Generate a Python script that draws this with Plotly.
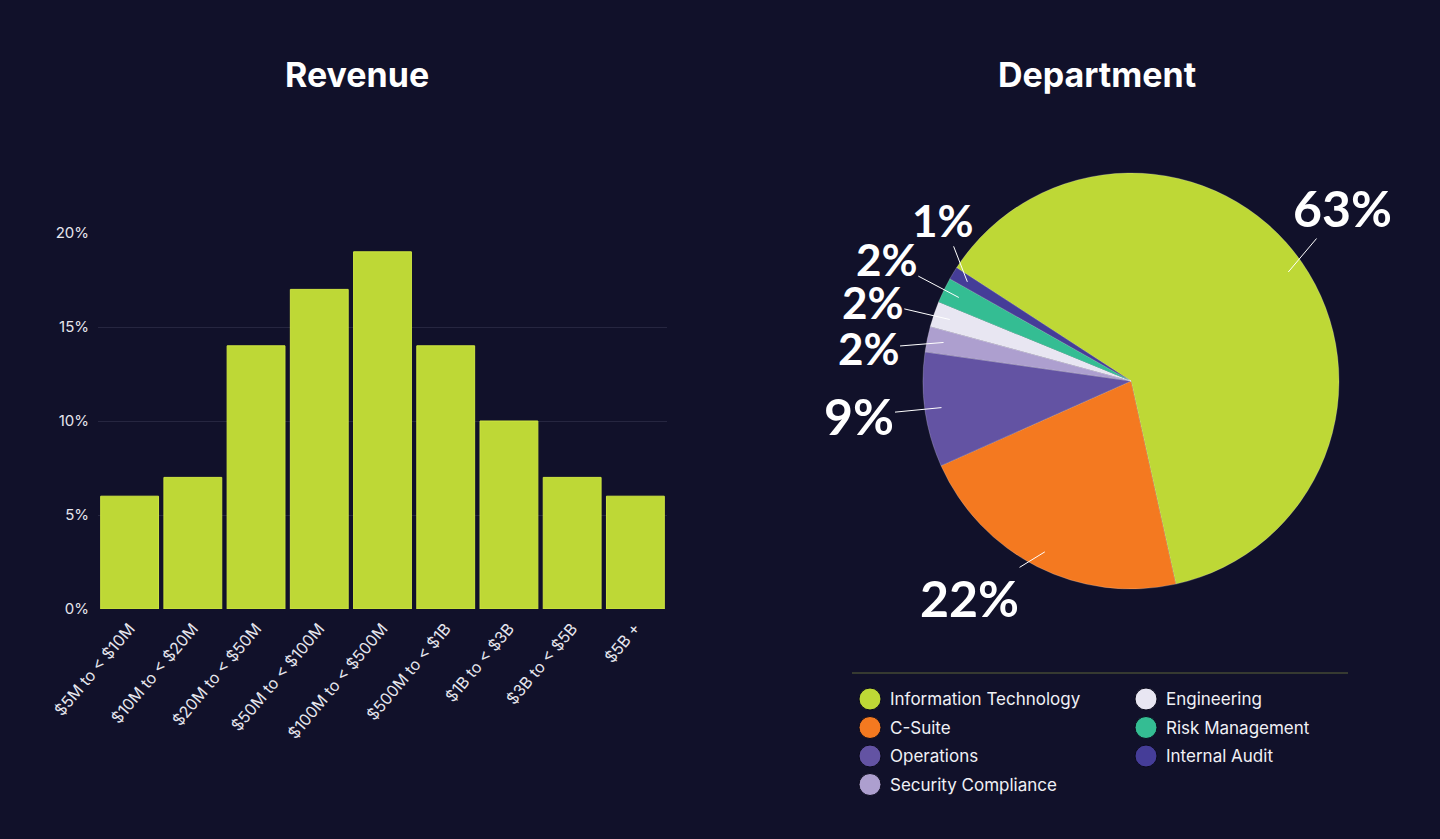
import math
import plotly.graph_objects as go

# ---------------- data ----------------
revenue_categories = ["$5M to < $10M", "$10M to < $20M", "$20M to < $50M", "$50M to < $100M",
                      "$100M to < $500M", "$500M to < $1B", "$1B to < $3B", "$3B to < $5B", "$5B +"]
revenue_values = [6, 7, 14, 17, 19, 14, 10, 7, 6]
revenue_ticks = [0, 5, 10, 15, 20]

dept_labels = ["Information Technology", "C-Suite", "Operations", "Security Compliance",
               "Engineering", "Risk Management", "Internal Audit"]
dept_values = [63, 22, 9, 2, 2, 2, 1]
dept_colors = ["#bed836", "#f47920", "#6353a3", "#ad9fcf", "#e8e6f2", "#34bd93", "#453d98"]

# ---------------- style ----------------
W, H = 1440, 839
BG = "#11112a"
LIME = "#bed836"
TXT = "#e6e6ee"
ROT = -57  # pie start angle (clockwise from 12 o'clock)
# pie domain (paper)
pie_x = [923 / W, 1339 / W]
pie_y = [(H - 589) / H, (H - 173) / H]
# label offsets (pixels) from leader-line anchor to label center
label_offsets = [(54, -64), (-75, 46), (-82, 8), (-75, 6), (-77, -18), (-72, -38), (-24, -62)]
label_sizes = [50, 50, 50, 44, 44, 44, 44]

fig = go.Figure()

fig.add_trace(go.Bar(
    x=revenue_categories, y=revenue_values,
    marker=dict(color=LIME, line=dict(color="#cfe640", width=1)),
    xaxis="x", yaxis="y", showlegend=False,
    hovertemplate="%{x}: %{y}%<extra></extra>",
))

fig.add_trace(go.Pie(
    labels=dept_labels, values=dept_values, sort=False, direction="clockwise",
    rotation=ROT, marker=dict(colors=dept_colors, line=dict(color="rgba(255,255,255,0.35)", width=0.6)),
    textinfo="none", domain=dict(x=pie_x, y=pie_y), showlegend=False,
    hovertemplate="%{label}: %{value}%<extra></extra>",
))

# pie geometry in pixels
cx = (pie_x[0] + pie_x[1]) / 2 * W
cy = H - (pie_y[0] + pie_y[1]) / 2 * H
R = min((pie_x[1] - pie_x[0]) * W, (pie_y[1] - pie_y[0]) * H) / 2
total = sum(dept_values)

annotations = []
cum = 0.0
for i, v in enumerate(dept_values):
    mid = ROT + (cum + v / 2) / total * 360
    cum += v
    a = math.radians(mid)
    px = cx + 0.92 * R * math.sin(a)
    py = cy - 0.92 * R * math.cos(a)
    ox, oy = label_offsets[i]
    annotations.append(dict(
        x=px / W, y=(H - py) / H, xref="paper", yref="paper",
        text=f"<b>{v}%</b>", showarrow=True, arrowhead=0, arrowwidth=1, arrowcolor="#ffffff",
        ax=ox, ay=oy, standoff=0, borderpad=0,
        font=dict(family="Lato", size=label_sizes[i], color="#ffffff", weight=900),
    ))

# titles
for txt, xc in [("Revenue", 357), ("Department", 1097)]:
    annotations.append(dict(
        x=xc / W, y=(H - 74) / H, xref="paper", yref="paper", showarrow=False,
        text=f"<b>{txt}</b>", xanchor="center", yanchor="middle",
        font=dict(family="Inter", size=34, color="#ffffff", weight=800),
    ))

shapes = [dict(type="line", xref="paper", yref="paper", x0=852 / W, x1=1348 / W,
               y0=(H - 673) / H, y1=(H - 673) / H, line=dict(color="#5c6438", width=1))]

# custom legend (two columns)
col_x = [870, 1146]
rows = [[0, 1, 2, 3], [4, 5, 6]]
for c, idxs in enumerate(rows):
    for r, idx in enumerate(idxs):
        yy = 699 + 28.5 * r
        shapes.append(dict(
            type="circle", xref="paper", yref="paper", xsizemode="pixel", ysizemode="pixel",
            xanchor=col_x[c] / W, yanchor=(H - yy) / H, x0=-11, x1=11, y0=-11, y1=11,
            fillcolor=dept_colors[idx], line=dict(color="#0a0a1c", width=1),
        ))
        annotations.append(dict(
            x=(col_x[c] + 18) / W, y=(H - yy) / H, xref="paper", yref="paper", showarrow=False,
            text=dept_labels[idx], xanchor="left", yanchor="middle",
            font=dict(family="Inter", size=17, color="#f0f0f5"),
        ))

fig.update_layout(
    width=W, height=H, paper_bgcolor=BG, plot_bgcolor=BG,
    margin=dict(l=0, r=0, t=0, b=0, autoexpand=False),
    bargap=0.085,
    xaxis=dict(domain=[98 / W, 667 / W], tickangle=-50, showgrid=False, zeroline=False,
               showline=False, ticks="", tickfont=dict(family="Inter", size=16, color=TXT),
               ticklabelstandoff=6, anchor="y", fixedrange=True, automargin=False),
    yaxis=dict(domain=[(H - 609) / H, (H - 233) / H], range=[0, 20], tickvals=revenue_ticks,
               ticktext=[f"{t}%" for t in revenue_ticks], showgrid=True, gridcolor="#262640",
               gridwidth=1, zeroline=False, showline=False, ticks="",
               tickfont=dict(family="Inter", size=15, color=TXT), ticklabelstandoff=8,
               anchor="x", fixedrange=True, automargin=False),
    annotations=annotations, shapes=shapes,
    font=dict(family="Inter", color=TXT),
)

fig.write_html(
    "out.html",
    config={"displayModeBar": False},
    post_script="document.body.style.margin='0';document.body.style.overflow='hidden';"
                "document.body.style.background='#11112a';",
)
